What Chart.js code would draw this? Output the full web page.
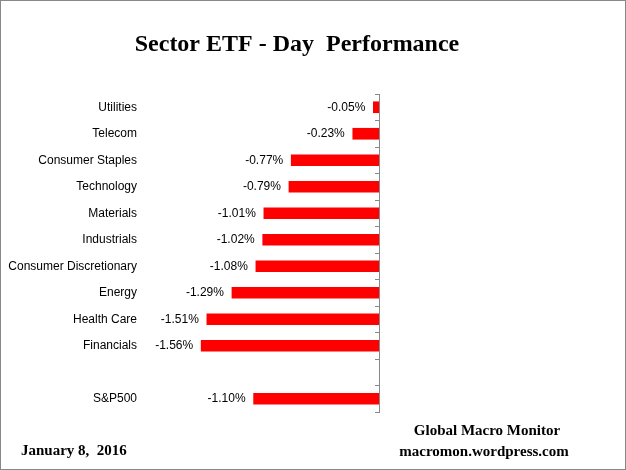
<!DOCTYPE html>
<html>
<head>
<meta charset="utf-8">
<script src="https://cdn.jsdelivr.net/npm/chart.js@4.4.1/dist/chart.umd.min.js"></script>
<style>
  body { margin: 0; background: #fff; }
  #wrap { width: 626px; height: 470px; box-sizing: border-box; border: 1px solid #888; }
  canvas { display: block; }
</style>
</head>
<body>
<div id="wrap"><canvas id="sectorChart" width="624" height="468"></canvas></div>
<script>
const sectors = ['Utilities', 'Telecom', 'Consumer Staples', 'Technology', 'Materials', 'Industrials',
    'Consumer Discretionary', 'Energy', 'Health Care', 'Financials', '', 'S&P500'];
const dayChange = [-0.05, -0.23, -0.77, -0.79, -1.01, -1.02, -1.08, -1.29, -1.51, -1.56, null, -1.10];
const titleText = 'Sector ETF - Day  Performance';
const dateText = 'January 8,  2016';
const sourceLines = ['Global Macro Monitor', 'macromon.wordpress.com'];

// value labels to the left of each bar
const barLabels = {
    id: 'barLabels',
    afterDatasetsDraw(chart) {
        const ctx = chart.ctx;
        const meta = chart.getDatasetMeta(0);
        ctx.save();
        ctx.font = '12px "Liberation Sans", Arial, sans-serif';
        ctx.fillStyle = '#000';
        ctx.textAlign = 'right';
        ctx.textBaseline = 'middle';
        meta.data.forEach((bar, i) => {
            if (dayChange[i] === null) return;
            ctx.fillText(dayChange[i].toFixed(2) + '%', bar.x - 8, bar.y);
        });
        ctx.restore();
    }
};

// title and footer notes
const chartText = {
    id: 'chartText',
    afterDraw(chart) {
        const ctx = chart.ctx;
        ctx.save();
        ctx.fillStyle = '#000';
        ctx.textBaseline = 'middle';
        ctx.textAlign = 'center';
        ctx.font = 'bold 24px "Liberation Serif", "Times New Roman", serif';
        ctx.fillText(titleText, 296, 44);
        ctx.font = 'bold 15px "Liberation Serif", "Times New Roman", serif';
        ctx.fillText(sourceLines[0], 486, 430);
        ctx.fillText(sourceLines[1], 483, 451);
        ctx.textAlign = 'left';
        ctx.font = 'bold 15px "Liberation Serif", "Times New Roman", serif';
        ctx.fillText(dateText, 20, 450);
        ctx.restore();
    }
};

const ctx = document.getElementById('sectorChart').getContext('2d');
new Chart(ctx, {
    type: 'bar',
    data: {
        labels: sectors,
        datasets: [{
            data: dayChange,
            backgroundColor: '#ff0000',
            barThickness: 11
        }]
    },
    options: {
        indexAxis: 'y',
        responsive: false,
        animation: false,
        layout: { padding: { top: 93, right: 246, bottom: 57, left: 0 } },
        plugins: {
            legend: { display: false },
            tooltip: { enabled: false }
        },
        scales: {
            x: { min: -2, max: 0, display: false },
            y: {
                position: 'left',
                grid: { display: false, drawTicks: false },
                border: { display: false },
                ticks: {
                    autoSkip: false,
                    padding: 14,
                    color: '#000',
                    font: { family: '"Liberation Sans", Arial, sans-serif', size: 12 }
                },
                afterFit: (scale) => { scale.width = 150; }
            },
            y2: {
                type: 'category',
                labels: sectors,
                position: { x: 0 },
                offset: true,
                grid: { drawOnChartArea: false, tickLength: 4, color: '#888', offset: true },
                border: { color: '#888' },
                ticks: { display: false }
            }
        }
    },
    plugins: [barLabels, chartText]
});
</script>
</body>
</html>
